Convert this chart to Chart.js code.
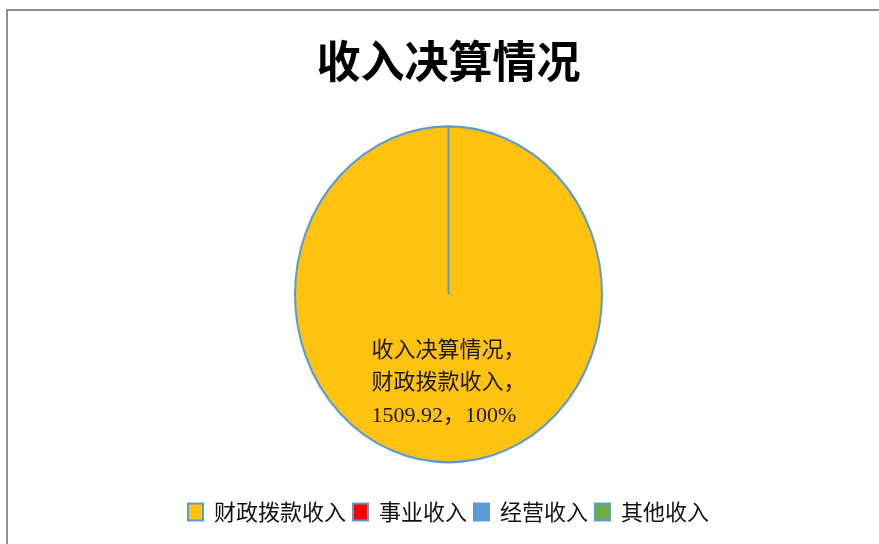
<!DOCTYPE html>
<html>
<head>
<meta charset="utf-8">
<script src="https://cdn.jsdelivr.net/npm/chart.js@4"></script>
<style>
  html, body { margin: 0; padding: 0; background: #fff; overflow: hidden; }
  #frame { position: absolute; left: 6px; top: 9px; width: 1000px; height: 1000px;
           border-top: 2px solid #8e8e8e; border-left: 2px solid #8e8e8e; }
  #incomeChart { position: absolute; left: 0; top: 0; }
</style>
</head>
<body>
<div id="frame"></div>
<canvas id="incomeChart" width="879" height="544"></canvas>
<script>
const chartTitle = '收入决算情况';
const categories = ['财政拨款收入', '事业收入', '经营收入', '其他收入'];
const amounts = [1509.92, 0, 0, 0];
const sliceColors = ['#FFC20E', '#FF0000', '#5B9BD5', '#70AD47'];

// Excel stretched the pie a little vertically
const stretchY = 168 / 153.5;

const ellipsePlugin = {
    id: 'ellipse',
    beforeDatasetsDraw(chart) {
        const arc = chart.getDatasetMeta(0).data[0];
        const ctx = chart.ctx;
        ctx.save();
        ctx.translate(arc.x, arc.y);
        ctx.scale(1, stretchY);
        ctx.translate(-arc.x, -arc.y);
    },
    afterDatasetsDraw(chart) {
        chart.ctx.restore();
    }
};

const sliceLabelPlugin = {
    id: 'sliceLabel',
    afterDraw(chart) {
        const ctx = chart.ctx;
        const meta = chart.getDatasetMeta(0);
        const total = amounts.reduce((a, b) => a + b, 0);
        meta.data.forEach(function (arc, i) {
            if (!amounts[i]) return;
            const pct = Math.round(amounts[i] / total * 100);
            const lines = [chartTitle + '，', categories[i] + '，', amounts[i].toFixed(2) + '，' + pct + '%'];
            ctx.save();
            ctx.font = '22px "Liberation Serif", "Noto Sans CJK SC"';
            ctx.fillStyle = '#1a1a1a';
            ctx.textBaseline = 'middle';
            ctx.textAlign = 'left';
            const w = Math.max.apply(null, lines.map(l => ctx.measureText(l).width));
            const cy = arc.y + arc.outerRadius * 0.58;
            const left = arc.x - w / 2;
            lines.forEach(function (l, k) {
                ctx.fillText(l, left, cy + (k - 1) * 32.5);
            });
            ctx.restore();
        });
    }
};

new Chart(document.getElementById('incomeChart'), {
    type: 'pie',
    data: {
        labels: categories,
        datasets: [{
            data: amounts,
            backgroundColor: sliceColors,
            borderColor: '#5B9BD5',
            borderWidth: 2
        }]
    },
    options: {
        responsive: false,
        animation: false,
        events: [],
        radius: 153.5,
        layout: { padding: { left: 18, bottom: 11 } },
        plugins: {
            title: {
                display: true,
                text: chartTitle,
                color: '#000',
                font: { family: '"Noto Sans CJK SC"', size: 44, weight: 'bold' },
                padding: { top: 35, bottom: 7 }
            },
            legend: {
                position: 'bottom',
                labels: {
                    color: '#111',
                    font: { family: '"Noto Sans CJK SC"', size: 22 },
                    boxWidth: 15,
                    boxHeight: 17,
                    padding: 7
                }
            },
            tooltip: { enabled: false }
        }
    },
    plugins: [ellipsePlugin, sliceLabelPlugin]
});
</script>
</body>
</html>
